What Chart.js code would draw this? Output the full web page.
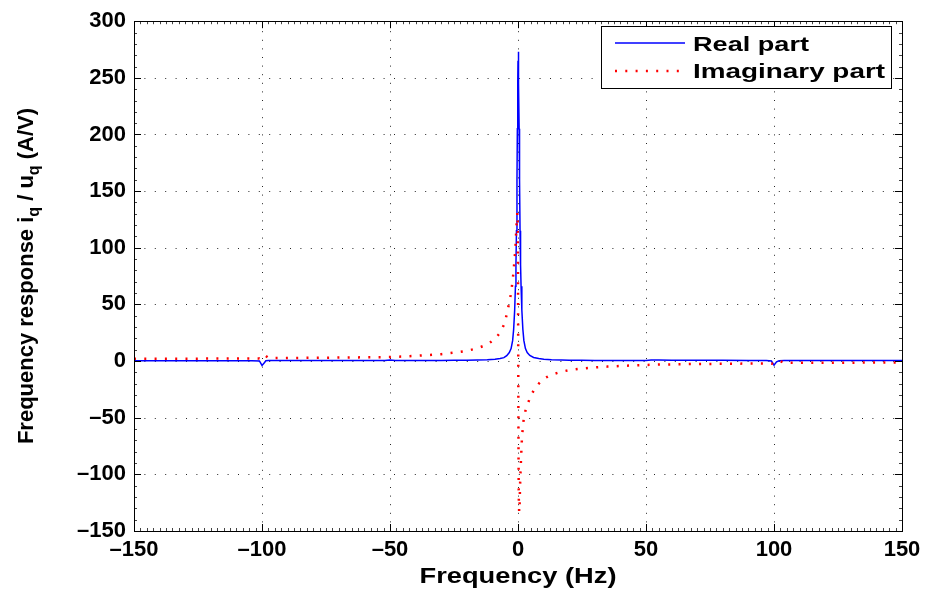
<!DOCTYPE html>
<html><head><meta charset="utf-8">
<script src="https://cdn.jsdelivr.net/npm/chart.js@4/dist/chart.umd.min.js"></script>
<style>html,body{margin:0;padding:0;background:#fff;}#wrap{width:927px;height:590px;}</style>
</head><body><div id="wrap"><canvas id="c" width="927" height="590"></canvas></div>
<script>
const freqHz = [-150,-140,-130,-120,-110,-104,-101,-100,-99,-98.5,-97.5,-95,-90,-80,-70,-60,-52,-50,-48,-45,-40,-35,-30,-25,-20,-16,-12,-9,-7,-5.5,-4.4,-3.4,-2.7,-2.1,-1.7,-1.3,-1.0,-0.8,-0.6,-0.4,-0.25,-0.1,0,0.1,0.2,0.3,0.45,0.6,0.8,1.0,1.2,1.5,1.9,2.3,2.9,3.6,4.6,6.1,8.1,10.1,13.1,17.1,20,25,30,35,40,45,50,52,55,60,70,80,90,97,99,100,101,102,104,110,120,130,140,150];
const realPart = [0.3,0.3,0.3,0.3,0.3,0.3,0.1,-3.8,-1.2,0.3,0.4,0.4,0.4,0.4,0.4,0.45,0.5,0.9,0.5,0.5,0.5,0.55,0.6,0.65,0.75,0.9,1.2,1.6,2.3,3.0,4.8,7.5,11,18,28,45,66,85,115,160,205,245,265,273,265,245,205,160,115,85,66,45,28,18,11,7.5,5,3.2,2.2,1.6,1.2,0.9,0.8,0.65,0.55,0.5,0.45,0.4,0.4,1.0,0.9,0.8,0.7,0.65,0.6,0.6,0.0,-3.7,-0.6,0.3,0.4,0.4,0.4,0.4,0.4,0.4];
const imagPart = [2.0,2.1,2.1,2.2,2.3,2.3,2.2,1.2,2.5,4.5,2.8,2.6,2.7,2.9,3.1,3.3,3.5,3.6,3.8,4.0,4.6,5.3,6.1,7.4,9.0,11.2,14.6,19.5,25,32,41,52,60,71,80,91,100,110,119,126,131,120,80,0,-80,-120,-133,-130,-110,-97,-85,-70,-58,-50,-44,-39,-33,-26,-20,-15.5,-12,-9.3,-8,-6.6,-5.6,-4.9,-4.3,-3.8,-3.4,-3.3,-3.1,-2.9,-2.6,-2.4,-2.2,-2.1,-2.4,-1.8,-0.2,0.3,-1.5,-1.6,-1.5,-1.4,-1.3,-1.2];
const xTicks = [-150,-100,-50,0,50,100,150];
const yTicks = [-150,-100,-50,0,50,100,150,200,250,300];
const seriesNames = ['Real part', 'Imaginary part'];
const xTitle = 'Frequency (Hz)';
const yTitleParts = [['Frequency response i', false], ['q', true], [' / u', false], ['q', true], [' (A/V)', false]];

const FONT = '"Liberation Sans", Arial, Helvetica, sans-serif';
const fmt = v => (v < 0 ? '\u2013' + Math.abs(v) : String(v));

function drawStretched(ctx, text, x, y, font, targetW, align) {
  ctx.save();
  ctx.font = font;
  const w = ctx.measureText(text).width;
  const s = targetW / w;
  let x0 = x;
  if (align === 'center') x0 = x - targetW / 2;
  ctx.translate(x0, y);
  ctx.scale(s, 1);
  ctx.textAlign = 'left';
  ctx.textBaseline = 'alphabetic';
  ctx.fillText(text, 0, 0);
  ctx.restore();
}

const framePlugin = {
  id: 'frame',
  beforeDatasetsDraw(chart) {
    const {ctx, chartArea: a, scales: {x, y}} = chart;
    ctx.save();
    ctx.strokeStyle = 'rgba(0,0,0,0.85)';
    ctx.lineWidth = 1;
    ctx.setLineDash([1, 9.4]);
    yTicks.forEach(v => {
      const py = Math.round(y.getPixelForValue(v)) + 0.5;
      ctx.beginPath(); ctx.moveTo(a.left, py); ctx.lineTo(a.right, py); ctx.stroke();
    });
    ctx.setLineDash([1, 7.6]);
    xTicks.forEach(v => {
      const px = Math.round(x.getPixelForValue(v)) + 0.5;
      ctx.beginPath(); ctx.moveTo(px, a.bottom); ctx.lineTo(px, a.top); ctx.stroke();
    });
    ctx.restore();
  },
  afterDatasetsDraw(chart) {
    const {ctx, chartArea: a, scales: {x, y}} = chart;
    ctx.save();
    ctx.setLineDash([]);
    ctx.lineWidth = 1;
    ctx.strokeStyle = '#444';
    for (let v = -150; v <= 150; v += 2.5) {
      const px = Math.round(x.getPixelForValue(v)) + 0.5;
      ctx.beginPath(); ctx.moveTo(px, a.bottom); ctx.lineTo(px, a.bottom - 3); ctx.stroke();
      ctx.beginPath(); ctx.moveTo(px, a.top); ctx.lineTo(px, a.top + 3); ctx.stroke();
    }
    for (let v = -150; v <= 300; v += 10) {
      const py = Math.round(y.getPixelForValue(v)) + 0.5;
      ctx.beginPath(); ctx.moveTo(a.left, py); ctx.lineTo(a.left + 3, py); ctx.stroke();
      ctx.beginPath(); ctx.moveTo(a.right, py); ctx.lineTo(a.right - 3, py); ctx.stroke();
    }
    ctx.strokeStyle = '#000';
    xTicks.forEach(v => {
      const px = Math.round(x.getPixelForValue(v)) + 0.5;
      ctx.beginPath(); ctx.moveTo(px, a.bottom); ctx.lineTo(px, a.bottom - 7); ctx.stroke();
      ctx.beginPath(); ctx.moveTo(px, a.top); ctx.lineTo(px, a.top + 7); ctx.stroke();
    });
    yTicks.forEach(v => {
      const py = Math.round(y.getPixelForValue(v)) + 0.5;
      ctx.beginPath(); ctx.moveTo(a.left, py); ctx.lineTo(a.left + 7, py); ctx.stroke();
      ctx.beginPath(); ctx.moveTo(a.right, py); ctx.lineTo(a.right - 7, py); ctx.stroke();
    });
    ctx.strokeRect(Math.round(a.left) + 0.5, Math.round(a.top) + 0.5, Math.round(a.right - a.left), Math.round(a.bottom - a.top));

    // legend
    const lx = 601, ly = 26, lw = 290, lh = 62;
    ctx.fillStyle = '#fff';
    ctx.fillRect(lx, ly, lw, lh);
    ctx.strokeStyle = '#000';
    ctx.strokeRect(lx + 0.5, ly + 0.5, lw, lh);
    const ds = chart.data.datasets;
    const realDs = ds.find(d => d.label === seriesNames[0]);
    const imagDs = ds.find(d => d.label === seriesNames[1]);
    ctx.strokeStyle = realDs.borderColor; ctx.lineWidth = 1.5;
    ctx.beginPath(); ctx.moveTo(615, 43); ctx.lineTo(685, 43); ctx.stroke();
    ctx.strokeStyle = imagDs.borderColor; ctx.lineWidth = imagDs.borderWidth;
    ctx.setLineDash(imagDs.borderDash);
    ctx.beginPath(); ctx.moveTo(615, 71); ctx.lineTo(685, 71); ctx.stroke();
    ctx.setLineDash([]);
    ctx.fillStyle = '#000';
    drawStretched(ctx, seriesNames[0], 693, 51, 'bold 20px ' + FONT, 116, 'left');
    drawStretched(ctx, seriesNames[1], 693, 78, 'bold 20px ' + FONT, 192, 'left');

    // x title
    drawStretched(ctx, xTitle, (a.left + a.right) / 2, 583, 'bold 22px ' + FONT, 197, 'center');

    // y title with subscripts
    ctx.save();
    ctx.translate(33, 276);
    ctx.rotate(-Math.PI / 2);
    const mainF = 'bold 22px ' + FONT, subF = 'bold 16px ' + FONT;
    let total = 0;
    yTitleParts.forEach(([t, sub]) => { ctx.font = sub ? subF : mainF; total += ctx.measureText(t).width; });
    let cx = -total / 2;
    ctx.textBaseline = 'alphabetic'; ctx.textAlign = 'left';
    yTitleParts.forEach(([t, sub]) => {
      ctx.font = sub ? subF : mainF;
      ctx.fillText(t, cx, sub ? 6 : 0);
      cx += ctx.measureText(t).width;
    });
    ctx.restore();
    ctx.restore();
  }
};

new Chart(document.getElementById('c'), {
  type: 'line',
  data: {
    datasets: [
      { label: seriesNames[1], data: freqHz.map((f, i) => ({x: f, y: imagPart[i]})),
        borderColor: '#ff0000', borderWidth: 2.5, borderDash: [2, 8.3], pointRadius: 0, tension: 0, fill: false },
      { label: seriesNames[0], data: freqHz.map((f, i) => ({x: f, y: realPart[i]})),
        borderColor: '#0000ff', borderWidth: 1.5, pointRadius: 0, tension: 0, fill: false }
    ]
  },
  options: {
    responsive: false, animation: false, devicePixelRatio: 1,
    layout: { padding: { left: 0, right: 25, top: 17, bottom: 0 } },
    plugins: { legend: { display: false }, tooltip: { enabled: false } },
    scales: {
      x: {
        type: 'linear', min: -150, max: 150,
        afterBuildTicks: s => { s.ticks = xTicks.map(v => ({value: v})); },
        afterFit: s => { s.height = 59; },
        grid: { display: false, drawTicks: false }, border: { display: false },
        ticks: { color: '#000', font: { family: FONT, size: 22, weight: 'bold' }, padding: 6, maxRotation: 0, autoSkip: false, callback: v => fmt(v) }
      },
      y: {
        type: 'linear', min: -150, max: 300,
        afterBuildTicks: s => { s.ticks = yTicks.map(v => ({value: v})); },
        afterFit: s => { s.width = 134; },
        grid: { display: false, drawTicks: false }, border: { display: false },
        ticks: { color: '#000', font: { family: FONT, size: 22, weight: 'bold' }, padding: 8, autoSkip: false, callback: v => fmt(v) }
      }
    }
  },
  plugins: [framePlugin]
});
</script></body></html>
